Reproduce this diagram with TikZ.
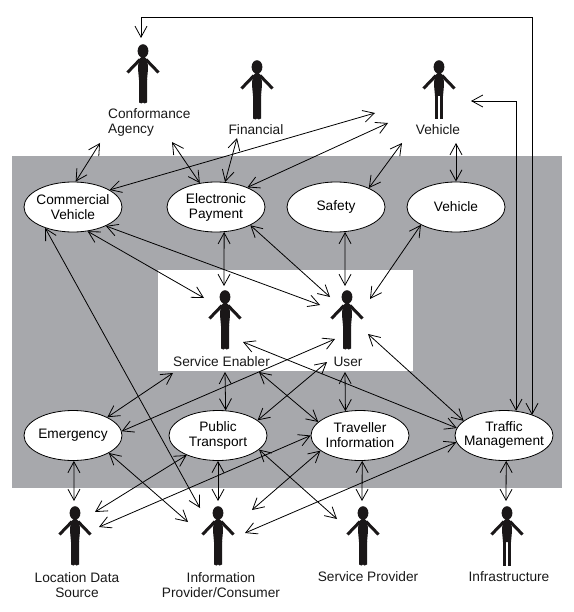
\documentclass[tikz,border=0pt]{standalone}
\usepackage{fontspec}
\setmainfont{Liberation Sans}
\usetikzlibrary{arrows.meta,shapes.geometric}
\definecolor{panelgray}{HTML}{A7A8AC}
\definecolor{figblack}{HTML}{1A1718}
\tikzset{
  x=1pt,y=-1pt,
  usecase/.style={ellipse,draw=black,line width=0.8pt,fill=white,minimum width=98pt,minimum height=50pt,inner sep=-20pt,align=center,font=\fontsize{13.7}{15}\selectfont},
  label text/.style={font=\fontsize{13.7}{15}\selectfont,text=black!90,inner sep=0pt,align=center},
  link/.style={line width=0.8pt,{Straight Barb[length=11pt,width=12pt,line width=0.8pt]}-{Straight Barb[length=11pt,width=12pt,line width=0.8pt]}},
  figure top/.pic={
    \fill[figblack] (0,7) ellipse [x radius=5.4,y radius=6.8];
    \draw[figblack,line width=3pt] (-15.5,28.5) -- (-3,15.5);
    \draw[figblack,line width=3pt] (15.5,28.5) -- (3,15.5);
    \fill[figblack] (-1.5,13) -- (1.5,13) -- (4.5,16) -- (5,25) -- (4,36) -- (-4,36) -- (-5,25) -- (-4.5,16) -- cycle;
  },
  person/.pic={
    \pic {figure top};
    \fill[figblack] (-4,35) -- (4,35) -- (4,58.5) -- (1.5,59.5) -- (0,58.5) -- (-1.5,59.5) -- (-4,58.5) -- cycle;
  },
  person legs/.pic={
    \pic {figure top};
    \fill[figblack] (-3.8,35) -- (-0.6,35) -- (-0.6,59.5) -- (-3.8,59.5) -- cycle;
    \fill[figblack] (0.6,35) -- (3.8,35) -- (3.8,59.5) -- (0.6,59.5) -- cycle;
  }
}
\newcommand{\conn}[2]{\draw[link] (#1) -- (#2);}
\begin{document}
\begin{tikzpicture}
\useasboundingbox (0,0) rectangle (573,612);
\fill[panelgray] (12,156) rectangle (562,487.5);
\fill[white] (158,270) rectangle (413,371);

% use cases
\node[usecase] (com) at (73,207) {Commercial\\Vehicle};
\node[usecase] (pay) at (216,207) {Electronic\\Payment};
\node[usecase] (saf) at (336,207) {Safety};
\node[usecase] (veh) at (456,207) {Vehicle};
\node[usecase] (eme) at (73,435.5) {Emergency};
\node[usecase] (pub) at (218,435.5) {Public\\Transport};
\node[usecase] (tra) at (360,435.5) {Traveller\\Information};
\node[usecase] (tfc) at (504,435.5) {\raisebox{2.5pt}{\begin{tabular}{@{}c@{}}Traffic\\[-1pt]Management\end{tabular}}};

% actors
\pic at (143,44) {person};
\pic at (257,60) {person};
\pic at (439,60) {person legs};
\pic at (225,290) {person};
\pic at (347,290) {person};
\pic at (75,506) {person};
\pic at (218,506) {person};
\pic at (363,506) {person};
\pic at (507,506) {person legs};

% labels
\node[label text,anchor=west,align=left] (lconf) at (108,122) {Conformance\\Agency};
\node[label text] (lfin) at (256,130) {Financial};
\node[label text] (lveh) at (438,130) {Vehicle};
\node[label text] (lse) at (221.5,362) {Service Enabler};
\node[label text] (lusr) at (348,362) {User};
\node[label text] (lloc) at (77,585) {Location Data\\Source};
\node[label text] (linf) at (221,585) {Information\\Provider/Consumer};
\node[label text] (lsp) at (368,577) {Service Provider};
\node[label text] (lin) at (509,577) {Infrastructure};

% free ends near the actors
\foreach \n/\p in {
  a1/{100,143},a2/{172,142},a3/{237,138},a4/{375,113},a5/{388,123},a6/{402,143},a7/{456,143},
  a8/{204,298},a9/{320,305},a10/{200,508},a11/{224,286},a12/{330,297},a13/{345,286},a14/{370,299},
  a15/{173,373},a16/{335,339},a17/{225,372},a18/{327,362},a19/{259,372},a20/{243,342},a21/{345,372},a22/{368,334},
  a23/{74,501},a24/{188,522},a25/{95,512},a26/{218,501},a27/{99,527},a28/{337,519},a29/{252,510},a30/{245,533},a31/{362,501},a32/{506,501},
  a33/{141,38},a34/{471,101},b33/{141,17},c33/{532,17},b34/{516,101}}
  {\coordinate (\n) at (\p);}

% connectors
\conn{a1}{com.84}
\conn{a2}{pay.124}
\conn{a3}{pay.70}
\conn{a4}{com.25}
\conn{a5}{pay.32}
\conn{a6}{saf.30}
\conn{a7}{veh.90}
\conn{a8}{com.-59}
\conn{a9}{com.-30}
\conn{a10}{com.-143}
\conn{a11}{pay.-72}
\conn{a12}{pay.-28}
\conn{a13}{saf.-70}
\conn{a14}{veh.207}
\conn{a15}{eme.28}
\conn{a16}{eme.5}
\conn{a17}{pub.73}
\conn{a18}{pub.21}
\conn{a19}{tra.162}
\conn{a20}{tfc.171}
\conn{a21}{tra.121.5}
\conn{a22}{tfc.160}
\conn{a23}{eme.-88}
\conn{a24}{eme.-26.6}
\conn{a25}{pub.-148}
\conn{a26}{pub.-90}
\conn{a27}{tra.180}
\conn{a28}{pub.-19.5}
\conn{a29}{tra.-159}
\conn{a30}{tfc.188}
\conn{a31}{tra.-85}
\conn{a32}{tfc.-85}
\draw[link] (a33) -- (b33) -- (c33) -- (c33 |- tfc.35);
\draw[link] (a34) -- (b34) -- (b34 |- tfc.64);
\end{tikzpicture}
\end{document}
